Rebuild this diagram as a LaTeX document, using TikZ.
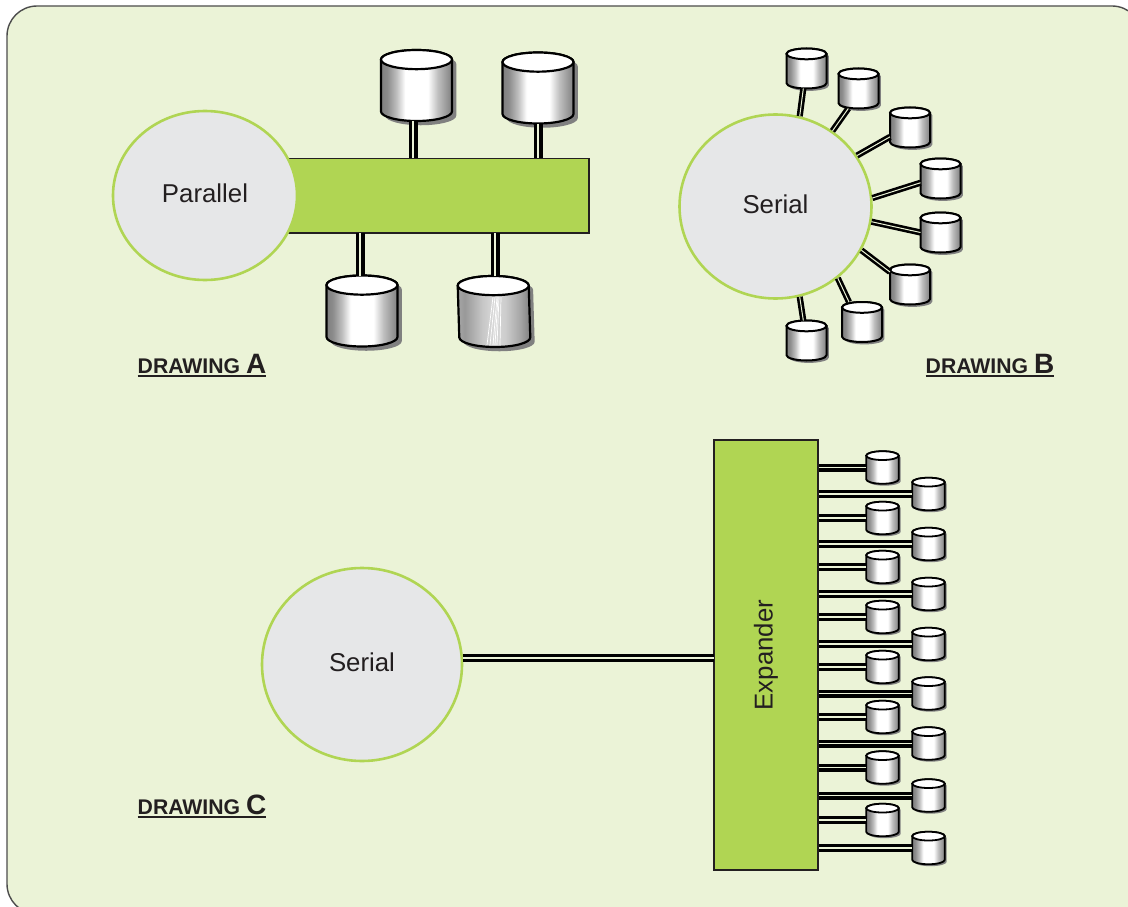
\documentclass[tikz,border=0pt]{standalone}
\usepackage{fontspec}
\setmainfont{Liberation Sans}
\usetikzlibrary{shapes.geometric}
\definecolor{panelgreen}{HTML}{EBF3D7}
\definecolor{leafgreen}{HTML}{B0D553}
\definecolor{hubgray}{HTML}{E6E7E8}
\definecolor{inkblack}{HTML}{231F20}
\pgfdeclarehorizontalshading{diskshade}{100bp}{
  color(0bp)=(black!50); color(25bp)=(black!50); color(29.5bp)=(black!45); color(36bp)=(black!25);
  color(42bp)=(white); color(58bp)=(white); color(65bp)=(black!25);
  color(73bp)=(black!45); color(75bp)=(black!48); color(100bp)=(black!48)}
\pgfdeclarehorizontalshading{diskworn}{100bp}{
  color(0bp)=(black!35); color(25bp)=(black!35); color(30bp)=(black!40); color(42bp)=(black!22);
  color(50bp)=(black!15); color(58bp)=(black!20); color(68bp)=(black!35);
  color(75bp)=(black!50); color(100bp)=(black!50)}
\tikzstyle{hub}=[ellipse, draw=leafgreen, line width=2.6pt, fill=hubgray, inner sep=0pt, text=inkblack, text depth=4pt, font=\fontsize{25.8}{25.8}\selectfont]
\tikzstyle{bar}=[rectangle, draw=inkblack, line width=1.6pt, fill=leafgreen, inner sep=0pt]
\tikzstyle{diskbox}=[rectangle, inner sep=0pt, outer sep=0pt]
\tikzstyle{diskbody}=[shade, shading=diskshade]
\tikzstyle{wire}=[draw=black, double=panelgreen]
\tikzstyle{wirea}=[wire, line width=3.4pt, double distance=2.2pt]
\tikzstyle{wireb}=[wire, line width=2.6pt, double distance=1pt]
\tikzstyle{wirec}=[wire, line width=3.1pt, double distance=1.8pt]
\tikzstyle{drawlabel}=[anchor=base west, inner sep=0pt, text=inkblack]
\newcommand{\disk}[5][]{%
  \node[diskbox, minimum size=#4] (#2) at (#3) {};
  \begin{scope}[shift={(#3)}, x=#4, y=#4, line width=#5, #1]
    \fill[black!50] ([shift={(.06,-.06)}]-.5,.365) -- ++(0,-.73) arc (180:360:.5 and .135) -- ++(0,.73) arc (0:180:.5 and .135) -- cycle;
    \draw[diskbody] (-.5,.365) -- (-.5,-.365) arc (180:360:.5 and .135) -- (.5,.365) arc (0:180:.5 and .135) -- cycle;
    \filldraw[fill=white] (0,.365) ellipse [x radius=.5, y radius=.135];
  \end{scope}
}
\newcommand{\drawinglabel}[1]{\vtop{\hbox{\bfseries\fontsize{21.2}{20}\selectfont DRAWING \fontsize{28}{20}\selectfont #1}\kern 1.5pt\hrule height 2pt}}

\begin{document}
\begin{tikzpicture}[x=1pt, y=-1pt]
\useasboundingbox (0,0) rectangle (1128,907);
\draw[draw=black!70, line width=1.4pt, fill=panelgreen, rounded corners=30pt] (7,6) rectangle (1142,914);

% drawing A
\node[bar, minimum width=350pt, minimum height=74.5pt] (bus) at (414,195.7) {};
\node[hub, minimum width=184pt, minimum height=169pt] (parallel) at (205,195.5) {Parallel};
\disk{a1}{416.5,85.5}{71pt}{2.2pt}
\disk{a2}{538,88}{71pt}{2.2pt}
\disk{a3}{362,311}{71pt}{2.2pt}
\disk[diskbody/.style={shade, shading=diskworn}, xslant=-.03]{a4}{494,311.5}{71pt}{2.2pt}
\foreach \xa/\xb in {493/487, 495/490, 497/493, 498/495, 499/497, 501/500}
  \draw[white, line width=.7pt] (\xa,297) -- (\xb,345);
\foreach \i/\x in {1/413,2/538} \draw[wirea] (a\i.south -| \x,0) -- (\x,158);
\foreach \i/\x in {3/360,4/495} \draw[wirea] (a\i.north -| \x,0) -- (\x,233);
\node[drawlabel] (laba) at (137.5,373.5) {\drawinglabel{A}};

% drawing B
\node[hub, minimum width=192pt, minimum height=184pt] (serialb) at (775.5,206.5) {Serial};
\foreach \i/\x/\y/\from/\to in {1/806.5/68.5/75.4/-99, 2/858.5/88.5/53/-117, 3/910/127.5/32.6/205, 4/940.5/178.5/5.6/192, 5/940.5/232.5/-9.1/180, 6/910/284.5/-27.7/148, 7/862/322/-49.2/123, 8/806.5/340.5/-75.6/99}
{
  \disk{b\i}{\x,\y}{40pt}{2pt}
  \draw[wireb] (serialb.\from) -- (b\i.\to);
}
\node[drawlabel] (labb) at (925.5,373.5) {\drawinglabel{B}};

% drawing C
\node[bar, minimum width=104pt, minimum height=430pt] (expander) at (766,655) {};
\node[rotate=90, text=inkblack, font=\fontsize{25.8}{25.8}\selectfont] (explabel) at (766,655) {Expander};
\node[hub, minimum width=200pt, minimum height=193pt] (serialc) at (362,664.5) {Serial};
\coordinate (tap) at (714,658);
\draw[wirec] (tap) -- (tap -| serialc.east);
\foreach \i/\y in {1/467.5, 2/518, 3/567, 4/617, 5/667, 6/717, 7/767.5, 8/820}
{
  \disk{cl\i}{882.5,\y}{32.5pt}{1.8pt}
  \draw[wirec] (expander.east |- cl\i) -- (cl\i);
}
\foreach \i/\y in {1/494, 2/544, 3/594, 4/644, 5/693.5, 6/743.5, 7/795.5, 8/848}
{
  \disk{cr\i}{928.5,\y}{32.5pt}{1.8pt}
  \draw[wirec] (expander.east |- cr\i) -- (cr\i);
}
\node[drawlabel] (labc) at (137.5,814) {\drawinglabel{C}};
\end{tikzpicture}
\end{document}
